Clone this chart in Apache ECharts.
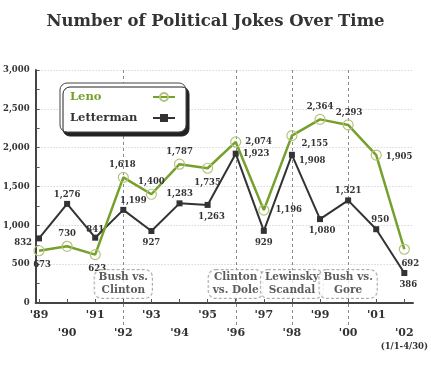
<!DOCTYPE html>
<html>
<head>
<meta charset="utf-8">
<script src="https://cdn.jsdelivr.net/npm/echarts@6/dist/echarts.min.js"></script>
<style>
html,body{margin:0;padding:0;background:#fff;}
#chart{width:431px;height:367px;}
</style>
</head>
<body>
<div id="chart"></div>
<script>
// ---- data ----
const years = ["'89","'90","'91","'92","'93","'94","'95","'96","'97","'98","'99","'00","'01","'02"];
const yearSubLabels = ["","","","","","","","","","","","","","(1/1-4/30)"];
const leno = [673, 730, 623, 1618, 1400, 1787, 1735, 2074, 1196, 2155, 2364, 2293, 1905, 692];
const letterman = [832, 1276, 841, 1199, 927, 1283, 1263, 1923, 929, 1908, 1080, 1321, 950, 386];
const eventYears = ["'92", "'96", "'98", "'00"];
const eventLabels = ["Bush vs.\nClinton", "Clinton\nvs. Dole", "Lewinsky\nScandal", "Bush vs.\nGore"];
const yTicks = [0, 500, 1000, 1500, 2000, 2500, 3000];

// ---- style ----
const SERIF = "'DejaVu Serif', serif";
const GREEN = '#76a02c';
const DARK = '#333333';

// label placement per point: [position, dx, dy]
const lenoPlace = [
  ['bottom',3,0],['top',0,2],['bottom',2,0],['top',-1,2],['top',0,2],['top',0,2],['bottom',0,0],
  ['right',0,0],['right',2,0],['right',0,8],['top',0,2],['top',1,2],['right',0,2],['bottom',6,0]
];
const lettPlace = [
  ['left',0,4],['top',0,2],['top',0,4],['top',10,2],['bottom',0,0],['top',0,2],['bottom',4,0],
  ['right',0,0],['bottom',0,0],['right',0,6],['bottom',2,0],['top',0,2],['top',4,2],['bottom',4,0]
];

function fmt(v){ return v.toLocaleString('en-US'); }
function withLabels(arr, place){
  return arr.map((v,i)=>({
    value: v,
    label: { position: place[i][0], offset: [place[i][1], place[i][2]] }
  }));
}

const chart = echarts.init(document.getElementById('chart'));
const yMin = yTicks[0], yMax = yTicks[yTicks.length-1];
const belowAxis = -283;

chart.setOption({
  animation: false,
  backgroundColor: '#fff',
  title: {
    text: 'Number of Political Jokes Over Time',
    left: 'center', top: 8,
    textStyle: { fontFamily: SERIF, fontWeight: 'bold', fontSize: 16.5, color: '#333' }
  },
  legend: {
    orient: 'vertical', left: 60, top: 83,
    align: 'right',
    padding: [8, 10, 8, 10],
    itemGap: 9, itemWidth: 22, itemHeight: 10,
    backgroundColor: '#fff', borderColor: '#444', borderWidth: 1, borderRadius: 7,
    shadowColor: '#222', shadowBlur: 0, shadowOffsetX: 3, shadowOffsetY: 4,
    formatter: name => (name === 'Leno' ? '{g|' : '{k|') + name + '}',
    textStyle: {
      fontFamily: SERIF, fontWeight: 'bold', fontSize: 11.5, color: DARK,
      rich: {
        g: { fontFamily: SERIF, fontWeight: 'bold', fontSize: 11.5, color: GREEN, width: 78, align: 'left' },
        k: { fontFamily: SERIF, fontWeight: 'bold', fontSize: 11.5, color: DARK, width: 78, align: 'left' }
      }
    },
    data: ['Leno', 'Letterman']
  },
  grid: [
    { left: 31, right: 18, top: 70, bottom: 64 },
    { left: 39, right: 26, top: 70, bottom: 64 },
    { left: 39, right: 26, top: 70, bottom: 42 }
  ],
  xAxis: [
    {
      gridIndex: 0, type: 'value', min: 0, max: 1,
      axisLine: { show: true, lineStyle: { color: '#444', width: 2 } },
      axisTick: { show: false }, axisLabel: { show: false }, splitLine: { show: false }
    },
    {
      gridIndex: 1, type: 'category', data: years, boundaryGap: false,
      axisLine: { show: false },
      axisTick: { show: true, inside: true, length: 4, interval: 0, lineStyle: { color: '#555' } },
      splitLine: { show: false },
      axisLabel: {
        interval: 0, margin: 3,
        fontFamily: SERIF, fontWeight: 'bold', fontSize: 11, color: DARK, lineHeight: 18,
        formatter: (val, idx) => {
          let s = (idx % 2 === 1 ? '\n' : '') + val;
          if (yearSubLabels[idx]) s += '\n{b|' + yearSubLabels[idx] + '}';
          return s;
        },
        rich: { b: { fontFamily: SERIF, fontWeight: 'bold', fontSize: 8.5, lineHeight: 9, color: DARK } }
      }
    },
    {
      gridIndex: 2, type: 'category', data: years, boundaryGap: false,
      axisLine: { show: false }, axisTick: { show: false }, axisLabel: { show: false },
      splitLine: {
        show: true,
        interval: (idx, val) => eventYears.indexOf(val) >= 0,
        lineStyle: { color: '#888', type: [3, 3], width: 1 }
      }
    }
  ],
  yAxis: [
    {
      gridIndex: 0, type: 'value', min: yMin, max: yMax, interval: 500,
      axisLine: { show: true, lineStyle: { color: '#444', width: 2 } },
      axisTick: { show: true, inside: true, length: 4, lineStyle: { color: '#555' } },
      minorTick: { show: true, splitNumber: 2, length: 4, lineStyle: { color: '#555' } },
      splitLine: { show: true, lineStyle: { color: '#c4c4c4', type: [1, 2], width: 1 } },
      axisLabel: {
        margin: 6, fontFamily: SERIF, fontWeight: 'bold', fontSize: 8.5, color: DARK,
        formatter: v => fmt(v)
      }
    },
    {
      gridIndex: 1, type: 'value', min: yMin, max: yMax, interval: 500,
      axisLine: { show: false }, axisTick: { show: false }, axisLabel: { show: false },
      splitLine: { show: false }
    },
    {
      gridIndex: 2, type: 'value', min: belowAxis, max: yMax,
      axisLine: { show: false }, axisTick: { show: false }, axisLabel: { show: false },
      splitLine: { show: false }
    }
  ],
  series: [
    {
      name: 'events', type: 'scatter', xAxisIndex: 1, yAxisIndex: 1,
      symbolSize: 0, silent: true, z: 5, clip: false,
      data: eventYears.map((e, i) => ({ value: [e, 245], name: eventLabels[i] })),
      label: {
        show: true, position: 'inside', formatter: p => p.name,
        fontFamily: SERIF, fontWeight: 'bold', fontSize: 10.5, lineHeight: 13, color: DARK,
        backgroundColor: '#fff', borderColor: '#999', borderWidth: 1, borderType: [3, 2],
        borderRadius: 7, padding: [1, 4, 1, 4]
      }
    },
    {
      name: 'Letterman', type: 'line', xAxisIndex: 1, yAxisIndex: 1,
      data: withLabels(letterman, lettPlace),
      symbol: 'rect', symbolSize: 6,
      lineStyle: { color: DARK, width: 2 },
      itemStyle: { color: DARK },
      label: {
        show: true, distance: 4, formatter: p => fmt(p.value),
        fontFamily: SERIF, fontWeight: 'bold', fontSize: 8.5, color: DARK
      },
      z: 3
    },
    {
      name: 'Leno', type: 'line', xAxisIndex: 1, yAxisIndex: 1,
      data: withLabels(leno, lenoPlace),
      symbol: 'circle', symbolSize: 10,
      lineStyle: { color: GREEN, width: 2.5 },
      itemStyle: { color: 'rgba(255,255,255,0)', borderColor: '#b3c47a', borderWidth: 1.2 },
      label: {
        show: true, distance: 4, formatter: p => fmt(p.value),
        fontFamily: SERIF, fontWeight: 'bold', fontSize: 8.5, color: DARK
      },
      z: 4
    }
  ]
});
</script>
</body>
</html>
